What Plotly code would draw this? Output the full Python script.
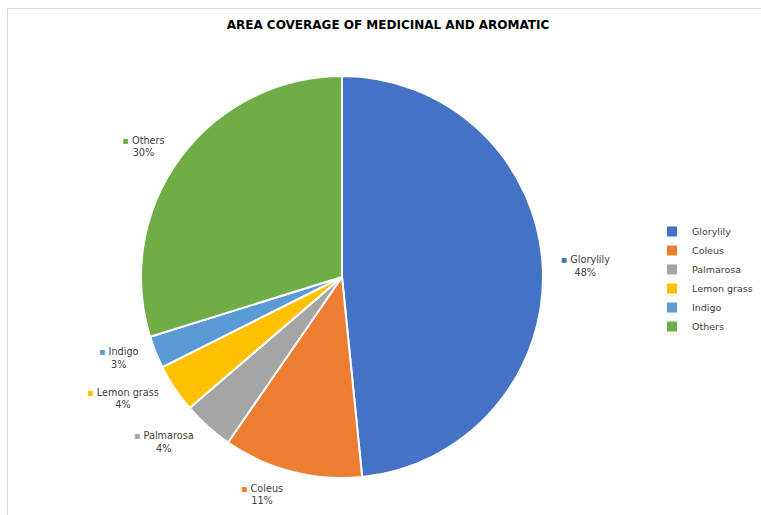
import plotly.graph_objects as go

# Data
categories = ["Glorylily", "Coleus", "Palmarosa", "Lemon grass", "Indigo", "Others"]
shares = [48.4, 11.2, 4.1, 3.9, 2.6, 29.8]
title_text = "AREA COVERAGE OF MEDICINAL AND AROMATIC"

# Styles
colors = ["#4472C4", "#ED7D31", "#A5A5A5", "#FFC000", "#5B9BD5", "#70AD47"]
FONT = "DejaVu Sans"
TXT = "#404040"

W, H = 761, 515
cx, cy = 342, 277
r_pie = 201      # visible pie radius (px)
r_lab = 213      # transparent pie that carries the labels


def dom(rad):
    return dict(x=[max(0, (cx - rad) / W), min(1, (cx + rad) / W)],
                y=[max(0, 1 - (cy + rad) / H), min(1, 1 - (cy - rad) / H)])


pie_main = go.Pie(
    labels=categories,
    values=shares,
    sort=False,
    direction="clockwise",
    rotation=0,
    marker=dict(colors=colors, line=dict(color="white", width=2)),
    textinfo="none",
    domain=dom(r_pie),
    hoverinfo="label+percent",
    showlegend=True,
)

pie_labels = go.Pie(
    labels=categories,
    values=shares,
    sort=False,
    direction="clockwise",
    rotation=0,
    marker=dict(colors=["rgba(0,0,0,0)"] * len(categories), line=dict(width=0)),
    customdata=colors,
    texttemplate='<span style="color:%{customdata}">▪</span> %{label}<br>%{percent:.0%}',
    textposition="outside",
    textfont=dict(family=FONT, size=9.7, color=TXT),
    domain=dom(r_lab),
    hoverinfo="skip",
    showlegend=False,
)

fig = go.Figure([pie_main, pie_labels])

fig.update_layout(
    width=W,
    height=H,
    margin=dict(l=0, r=0, t=0, b=0, autoexpand=False),
    paper_bgcolor="white",
    plot_bgcolor="white",
    title=dict(
        text="<b>" + title_text + "</b>",
        x=388 / W,
        xanchor="center",
        y=1 - 25 / H,
        yanchor="middle",
        font=dict(family=FONT, size=12, color="#000000"),
    ),
    legend=dict(
        x=652 / W,
        xanchor="left",
        y=1 - 217 / H,
        yanchor="top",
        font=dict(family=FONT, size=9.5, color=TXT),
        itemwidth=30,
        tracegroupgap=0,
    ),
    showlegend=True,
    shapes=[
        dict(
            type="rect",
            xref="paper",
            yref="paper",
            x0=7.5 / W,
            x1=1.02,
            y0=-0.02,
            y1=1 - 8.5 / H,
            line=dict(color="#D9D9D9", width=1),
            fillcolor="rgba(0,0,0,0)",
            layer="below",
        )
    ],
)

fig.write_html("out.html")
